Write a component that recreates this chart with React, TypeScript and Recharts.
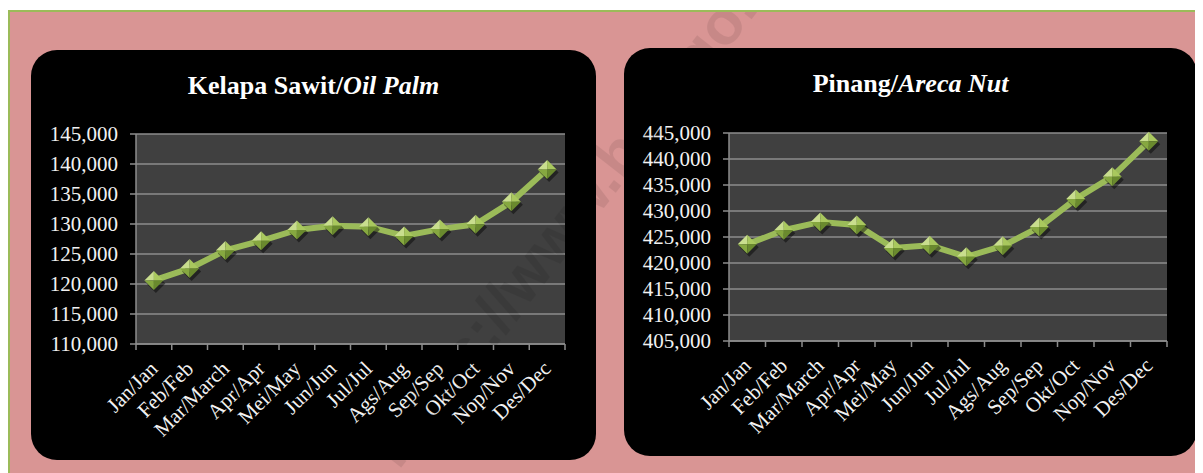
import React from 'react';
import { LineChart, Line, XAxis, YAxis, CartesianGrid } from 'recharts';

const months = ['Jan/Jan', 'Feb/Feb', 'Mar/March', 'Apr/Apr', 'Mei/May', 'Jun/Jun', 'Jul/Jul', 'Ags/Aug', 'Sep/Sep', 'Okt/Oct', 'Nop/Nov', 'Des/Dec'];
const oilPalm = [120600, 122600, 125600, 127200, 129000, 129700, 129550, 128000, 129150, 129950, 133700, 139100];
const arecaNut = [423600, 426300, 427900, 427300, 422900, 423400, 421200, 423300, 426900, 432300, 436600, 443400];
const oilPalmTicks = [110000, 115000, 120000, 125000, 130000, 135000, 140000, 145000];
const arecaTicks = [405000, 410000, 415000, 420000, 425000, 430000, 435000, 440000, 445000];
const watermark = 'https://www.bps.go.id';

const FONT = '"Liberation Serif", "Times New Roman", serif';
const fmt = (v: number) => v.toLocaleString('en-US');

const Diamond = (props: any) => {
  const { cx, cy } = props;
  if (cx == null || cy == null) return null;
  const r = 9.5;
  const T = `${cx},${cy - r}`, R = `${cx + r},${cy}`, B = `${cx},${cy + r}`, L = `${cx - r},${cy}`, C = `${cx},${cy}`;
  return (
    <g>
      <polygon points={`${T} ${R} ${B} ${L}`} fill="#000" opacity={0.45} transform="translate(2,3)" />
      <polygon points={`${L} ${T} ${C}`} fill="#C9DE8E" />
      <polygon points={`${T} ${R} ${C}`} fill="#A9C85E" />
      <polygon points={`${L} ${B} ${C}`} fill="#86A840" />
      <polygon points={`${B} ${R} ${C}`} fill="#6A8A2E" />
    </g>
  );
};

const makeXTick = (step: number, count: number) => (props: any) => {
  const { x, y, payload, index } = props;
  const bx = x - step / 2;
  const ax = x + 5;
  const ay = y + 26;
  return (
    <g>
      <line x1={bx} x2={bx} y1={y} y2={y + 6} stroke="#8C8C8C" strokeWidth={1.5} />
      {index === count - 1 && (
        <line x1={x + step / 2} x2={x + step / 2} y1={y} y2={y + 6} stroke="#8C8C8C" strokeWidth={1.5} />
      )}
      <text
        x={ax}
        y={ay}
        textAnchor="end"
        fill="#F2F2F2"
        fontSize={21}
        fontFamily={FONT}
        transform={`rotate(-45 ${ax} ${ay})`}
      >
        {payload.value}
      </text>
    </g>
  );
};

type PanelProps = {
  left: number;
  top: number;
  width: number;
  height: number;
  plotTop: number;
  plotRight: number;
  plotBottom: number;
  yWidth: number;
  title: React.ReactNode;
  values: number[];
  ticks: number[];
};

const Panel = ({ left, top, width, height, plotTop, plotRight, plotBottom, yWidth, title, values, ticks }: PanelProps) => {
  const data = months.map((m, i) => ({ month: m, value: values[i] }));
  const plotWidth = width - yWidth - plotRight;
  const step = plotWidth / months.length;
  return (
    <div
      style={{
        position: 'absolute',
        left,
        top,
        width,
        height,
        background: '#000',
        borderRadius: 26,
        overflow: 'hidden',
      }}
    >
      <div
        style={{
          position: 'absolute',
          left: 0,
          top: 23,
          width: '100%',
          textAlign: 'center',
          color: '#fff',
          fontFamily: FONT,
          fontWeight: 'bold',
          fontSize: 26,
          lineHeight: '26px',
          whiteSpace: 'nowrap',
        }}
      >
        {title}
      </div>
      <div style={{ position: 'absolute', left: 0, top: 0 }}>
        <LineChart width={width} height={height} data={data} margin={{ top: plotTop, right: plotRight, bottom: 0, left: 0 }}>
          <CartesianGrid vertical={false} fill="#404040" stroke="#8C8C8C" strokeWidth={1.5} />
          <XAxis
            dataKey="month"
            interval={0}
            height={plotBottom}
            padding={{ left: step / 2, right: step / 2 }}
            tickSize={0}
            tickMargin={0}
            tickLine={false}
            axisLine={{ stroke: '#8C8C8C', strokeWidth: 1.5 }}
            tick={makeXTick(step, months.length)}
          />
          <YAxis
            width={yWidth}
            domain={[ticks[0], ticks[ticks.length - 1]]}
            ticks={ticks}
            interval={0}
            tickFormatter={fmt}
            tickSize={6}
            tickMargin={12}
            axisLine={{ stroke: '#8C8C8C', strokeWidth: 1.5 }}
            tickLine={{ stroke: '#8C8C8C', strokeWidth: 1.5 }}
            tick={{ fill: '#F2F2F2', fontSize: 21, fontFamily: FONT }}
          />
          <Line
            type="linear"
            dataKey="value"
            stroke="#9BBB59"
            strokeWidth={6}
            dot={<Diamond />}
            activeDot={false}
            isAnimationActive={false}
          />
        </LineChart>
      </div>
    </div>
  );
};

export default function App() {
  return (
    <div
      style={{
        position: 'relative',
        marginTop: 2,
        width: 1200,
        height: 470,
        background: '#D99594',
        borderTop: '2px solid #9BBB59',
        borderLeft: '2px solid #9BBB59',
        boxSizing: 'border-box',
        overflow: 'hidden',
        fontFamily: FONT,
      }}
    >
      <Panel
        left={21}
        top={38}
        width={565}
        height={410}
        plotTop={84}
        plotRight={31}
        plotBottom={116}
        yWidth={105}
        title={<>Kelapa Sawit/<i>Oil Palm</i></>}
        values={oilPalm}
        ticks={oilPalmTicks}
      />
      <Panel
        left={614}
        top={36}
        width={573}
        height={408}
        plotTop={85}
        plotRight={30}
        plotBottom={115}
        yWidth={105}
        title={<>Pinang/<i>Areca Nut</i></>}
        values={arecaNut}
        ticks={arecaTicks}
      />
      <svg
        width={1200}
        height={470}
        style={{ position: 'absolute', left: -2, top: -2, pointerEvents: 'none' }}
      >
        <text
          x={571}
          y={195}
          textAnchor="middle"
          dominantBaseline="central"
          fontFamily='"Liberation Sans", Arial, sans-serif'
          fontWeight="bold"
          fontSize={62}
          fill="#000"
          opacity={0.08}
          transform="rotate(-52 571 195)"
        >
          {watermark}
        </text>
      </svg>
    </div>
  );
}
